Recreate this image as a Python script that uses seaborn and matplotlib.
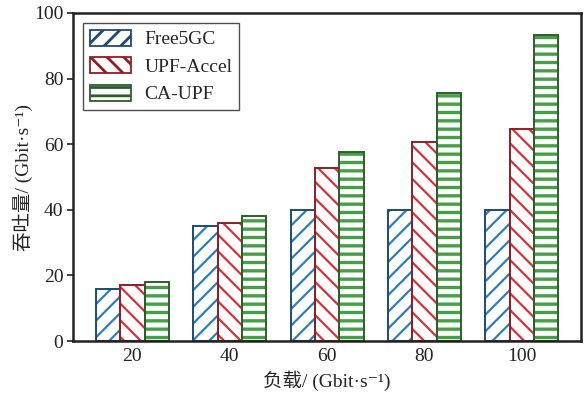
import matplotlib
matplotlib.use("Agg")
import matplotlib.pyplot as plt
from matplotlib.patches import Patch
import seaborn as sns
import pandas as pd

loads = ["20", "40", "60", "80", "100"]
series = ["Free5GC", "UPF-Accel", "CA-UPF"]
free5gc = [16, 35, 40, 40, 40]
upf_accel = [17, 36, 52.7, 60.6, 64.7]
ca_upf = [18, 38, 57.6, 75.6, 93.4]

df = pd.DataFrame({
    "load": loads * 3,
    "series": [s for s in series for _ in loads],
    "value": free5gc + upf_accel + ca_upf,
})

sns.set_style("ticks")
plt.rcParams["font.family"] = ["Liberation Serif", "Noto Sans CJK SC", "DejaVu Serif"]
plt.rcParams["hatch.linewidth"] = 2.0

hatch_colors = {"Free5GC": "#2f7dba", "UPF-Accel": "#d6323c", "CA-UPF": "#45a045"}
edge_colors = {"Free5GC": "#1d4a72", "UPF-Accel": "#8e1f24", "CA-UPF": "#2c5e2a"}
hatches = {"Free5GC": "//", "UPF-Accel": "\\\\", "CA-UPF": "--"}

fig = plt.figure(figsize=(5.84, 3.93), dpi=100)
ax = fig.add_axes([0.125, 0.132, 0.87, 0.835])

# hatched fill layer
sns.barplot(data=df, x="load", y="value", hue="series", order=loads,
            hue_order=series, width=0.75, palette=["white"] * 3,
            ax=ax, legend=False)
# outline layer
sns.barplot(data=df, x="load", y="value", hue="series", order=loads,
            hue_order=series, width=0.75, fill=False,
            palette=[edge_colors[s] for s in series], ax=ax, legend=False)

n = len(loads)
bars = ax.patches
for i, p in enumerate(bars[: 3 * n]):
    s = series[i // n]
    p.set_facecolor("white")
    p.set_edgecolor(hatch_colors[s])
    p.set_hatch(hatches[s])
    p.set_linewidth(0)
    if hasattr(p, "set_hatch_linewidth"):
        p.set_hatch_linewidth(2.4 if s == "CA-UPF" else 1.6)
for i, p in enumerate(bars[3 * n:]):
    s = series[i // n]
    p.set_edgecolor(edge_colors[s])
    p.set_linewidth(1.4)
    p.set_facecolor("none")

handles = [Patch(facecolor="white", edgecolor=edge_colors[s], hatch=hatches[s],
                 linewidth=1.3, label=s) for s in series]
leg = ax.legend(handles=handles, loc="upper left", frameon=True, fancybox=False,
                edgecolor="#222222", fontsize=14, handlelength=2.1,
                handleheight=0.9, borderpad=0.35, labelspacing=0.45,
                handletextpad=0.7, borderaxespad=0.0,
                bbox_to_anchor=(0.02, 0.97))
leg.get_frame().set_linewidth(1.0)

ax.set_ylim(0, 100)
ax.set_xlim(-0.61, 4.61)
ax.set_yticks([0, 20, 40, 60, 80, 100])
ax.set_xlabel("负载/ (Gbit·s⁻¹)", fontsize=14, labelpad=4)
ax.set_ylabel("吞吐量/ (Gbit·s⁻¹)", fontsize=14, labelpad=1)
ax.tick_params(axis="both", labelsize=14, colors="#222222", width=1.2)
ax.tick_params(axis="x", length=0, pad=5)
ax.tick_params(axis="y", length=4, direction="out", pad=3)
for sp in ax.spines.values():
    sp.set_visible(True)
    sp.set_linewidth(1.8)
    sp.set_color("#222222")

fig.savefig("out.png", dpi=100)
